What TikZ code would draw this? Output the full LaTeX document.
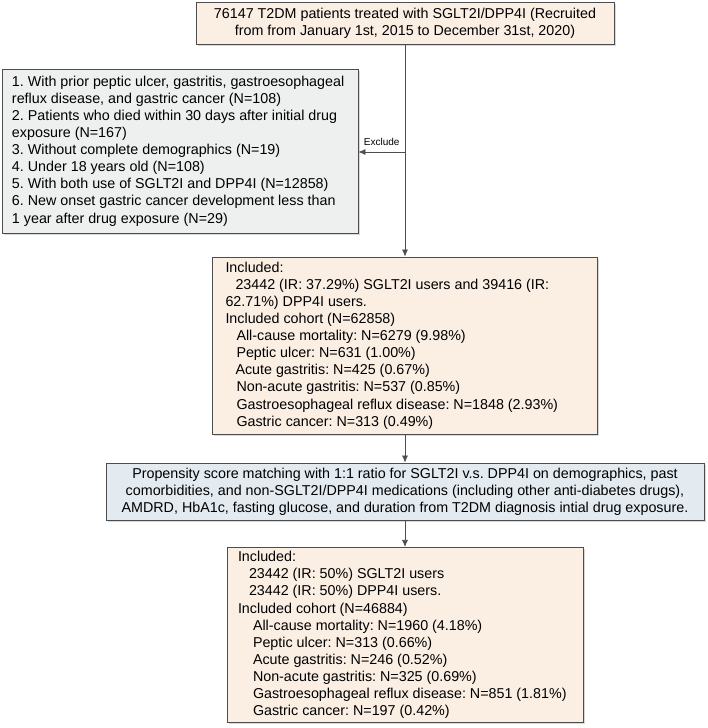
\documentclass[tikz,border=0pt]{standalone}
\usepackage{fontspec}
\setmainfont{Liberation Sans}
\usepackage{tikz}
\usetikzlibrary{arrows.meta,positioning,shadows}

\definecolor{boxpeach}{HTML}{FBEFE4}
\definecolor{boxgray}{HTML}{EEEFEF}
\definecolor{boxblue}{HTML}{E3EBF1}
\definecolor{linegray}{HTML}{4D4D4D}

\tikzset{
  flowbox/.style={draw=linegray, line width=0.8pt, inner ysep=4pt,
    font=\fontsize{14.3}{17.1}\selectfont\frenchspacing,
    drop shadow={shadow xshift=1.5pt, shadow yshift=-1.5pt, opacity=0.3}},
  flowarrow/.style={draw=linegray, line width=0.7pt, -{Latex[length=7pt,width=6pt]}},
}

\begin{document}
\begin{tikzpicture}[x=1pt,y=-1pt]
\useasboundingbox (0,0) rectangle (708,728);
% boxes
\node[flowbox, fill=boxpeach, minimum width=418pt, minimum height=42pt, align=center] (total) at (405,23)
  {76147 T2DM patients treated with SGLT2I/DPP4I (Recruited\\from from January 1st, 2015 to December 31st, 2020)};
\node[flowbox, fill=boxgray, text width=336pt, inner xsep=10pt, minimum height=164pt, align=flush left] (excl) at (180,151)
  {1. With prior peptic ulcer, gastritis, gastroesophageal\\
   reflux disease, and gastric cancer (N=108)\\
   2. Patients who died within 30 days after initial drug\\
   exposure (N=167)\\
   3. Without complete demographics (N=19)\\
   4. Under 18 years old (N=108)\\
   5. With both use of SGLT2I and DPP4I (N=12858)\\
   6. New onset gastric cancer development less than\\
   1 year after drug exposure (N=29)};
\node[flowbox, fill=boxpeach, text width=359pt, inner xsep=13pt, minimum height=177pt, align=flush left] (incl) at (405,345.5)
  {Included:\\
   \hspace*{10pt}23442 (IR: 37.29\%) SGLT2I users and 39416 (IR:\\
   62.71\%) DPP4I users.\\
   Included cohort (N=62858)\\
   \hspace*{11pt}All-cause mortality: N=6279 (9.98\%)\\
   \hspace*{11pt}Peptic ulcer: N=631 (1.00\%)\\
   \hspace*{10pt}Acute gastritis: N=425 (0.67\%)\\
   \hspace*{11pt}Non-acute gastritis: N=537 (0.85\%)\\
   \hspace*{11pt}Gastroesophageal reflux disease: N=1848 (2.93\%)\\
   \hspace*{11pt}Gastric cancer: N=313 (0.49\%)};
\node[flowbox, fill=boxblue, minimum width=598pt, minimum height=57pt, align=center] (match) at (405,491.5)
  {Propensity score matching with 1:1 ratio for SGLT2I v.s. DPP4I on demographics, past\\
   comorbidities, and non-SGLT2I/DPP4I medications (including other anti-diabetes drugs),\\
   AMDRD, HbA1c, fasting glucose, and duration from T2DM diagnosis intial drug exposure.};
\node[flowbox, fill=boxpeach, text width=334pt, inner xsep=11pt, minimum height=174pt, align=flush left] (matched) at (405,635)
  {Included:\\
   \hspace*{11pt}23442 (IR: 50\%) SGLT2I users\\
   \hspace*{11pt}23442 (IR: 50\%) DPP4I users.\\
   Included cohort (N=46884)\\
   \hspace*{15pt}All-cause mortality: N=1960 (4.18\%)\\
   \hspace*{15pt}Peptic ulcer: N=313 (0.66\%)\\
   \hspace*{15pt}Acute gastritis: N=246 (0.52\%)\\
   \hspace*{15pt}Non-acute gastritis: N=325 (0.69\%)\\
   \hspace*{15pt}Gastroesophageal reflux disease: N=851 (1.81\%)\\
   \hspace*{15pt}Gastric cancer: N=197 (0.42\%)};
% connectors
\coordinate (split) at (405,152);
\draw[flowarrow] (total) -- (incl);
\draw[flowarrow] (split) -- node[above=3pt, font=\fontsize{10}{12}\selectfont] {Exclude} (split -| excl.east);
\draw[flowarrow] (incl) -- (match);
\draw[flowarrow] (match) -- (matched);
\end{tikzpicture}
\end{document}
